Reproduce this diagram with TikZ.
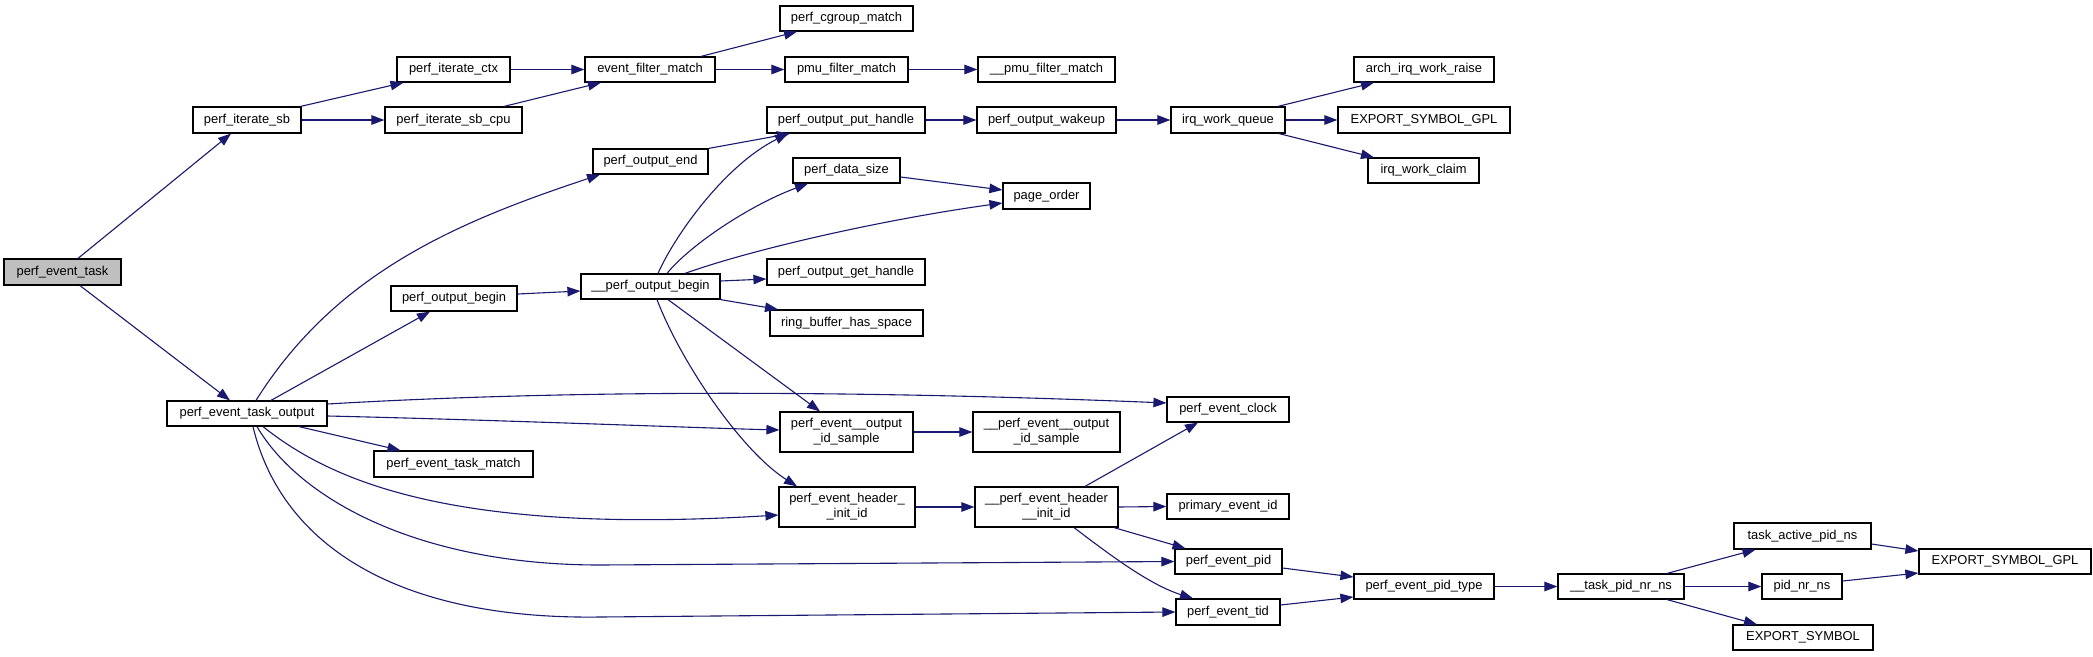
\documentclass[tikz,border=0pt]{standalone}
\usepackage{fontspec}
\setmainfont{Liberation Sans}
\usetikzlibrary{arrows.meta}
\definecolor{edgecol}{HTML}{191970}
\definecolor{boxgrey}{HTML}{BFBFBF}
\begin{document}
\begin{tikzpicture}[x=1pt,y=-1pt,
  box/.style={draw=black, line width=1.2pt, fill=white, inner sep=0pt, align=center,
    font=\fontsize{12.9}{15}\selectfont},
  edge/.style={draw=edgecol, line width=1.1pt, -{Triangle[length=13pt,width=9.5pt]}, fill=none}]
\fill[white] (0,0) rectangle (2093,656);
\useasboundingbox (0,0) rectangle (2093,656);
% nodes
\node[box, fill=boxgrey, minimum width=117pt, minimum height=26pt] (pet) at (62.5,272) {perf\_event\_task};
\node[box, minimum width=108pt, minimum height=26pt] (pis) at (247,120) {perf\_iterate\_sb};
\node[box, minimum width=113pt, minimum height=25pt] (pic) at (453.5,69.5) {perf\_iterate\_ctx};
\node[box, minimum width=137pt, minimum height=26pt] (pisc) at (453.5,120) {perf\_iterate\_sb\_cpu};
\node[box, minimum width=130pt, minimum height=25pt] (efm) at (650,69.5) {event\_filter\_match};
\node[box, minimum width=133pt, minimum height=25pt] (pcm) at (846.5,18.5) {perf\_cgroup\_match};
\node[box, minimum width=123pt, minimum height=25pt] (pfm) at (846.5,69.5) {pmu\_filter\_match};
\node[box, minimum width=137pt, minimum height=25pt] (upfm) at (1046.5,69.5) {\_\_pmu\_filter\_match};
\node[box, minimum width=160pt, minimum height=25pt] (pot) at (247,413.5) {perf\_event\_task\_output};
\node[box, minimum width=115pt, minimum height=25pt] (poe) at (650.5,161.5) {perf\_output\_end};
\node[box, minimum width=126pt, minimum height=25pt] (pob) at (454,298.5) {perf\_output\_begin};
\node[box, minimum width=139pt, minimum height=25pt] (upob) at (650.5,286.5) {\_\_perf\_output\_begin};
\node[box, minimum width=158pt, minimum height=26pt] (poph) at (846,120) {perf\_output\_put\_handle};
\node[box, minimum width=107pt, minimum height=25pt] (pds) at (846.5,170.5) {perf\_data\_size};
\node[box, minimum width=87pt, minimum height=26pt] (po) at (1046.5,196) {page\_order};
\node[box, minimum width=158pt, minimum height=26pt] (pogh) at (846,272) {perf\_output\_get\_handle};
\node[box, minimum width=153pt, minimum height=26pt] (rbhs) at (846.5,323) {ring\_buffer\_has\_space};
\node[box, minimum width=139pt, minimum height=26pt] (pow) at (1046.5,120) {perf\_output\_wakeup};
\node[box, minimum width=114pt, minimum height=26pt] (iwq) at (1228,120) {irq\_work\_queue};
\node[box, minimum width=140pt, minimum height=25pt] (aiwr) at (1424,69.5) {arch\_irq\_work\_raise};
\node[box, minimum width=172pt, minimum height=26pt] (esga) at (1424,120) {EXPORT\_SYMBOL\_GPL};
\node[box, minimum width=111pt, minimum height=25pt] (iwc) at (1423.5,170.5) {irq\_work\_claim};
\node[box, minimum width=159pt, minimum height=26pt] (petm) at (453.5,464) {perf\_event\_task\_match};
\node[box, minimum width=122pt, minimum height=25pt] (pec) at (1228,409.5) {perf\_event\_clock};
\node[box, minimum width=133pt, minimum height=40pt] (peois) at (846.5,432) {perf\_event\_\_output\\\_id\_sample};
\node[box, minimum width=147pt, minimum height=40pt] (upeois) at (1046.5,432) {\_\_perf\_event\_\_output\\\_id\_sample};
\node[box, minimum width=136pt, minimum height=40pt] (pehii) at (847,507) {perf\_event\_header\_\\\_init\_id};
\node[box, minimum width=143pt, minimum height=40pt] (upehii) at (1046.5,507) {\_\_perf\_event\_header\\\_\_init\_id};
\node[box, minimum width=122pt, minimum height=25pt] (pei) at (1228,506.5) {primary\_event\_id};
\node[box, minimum width=107pt, minimum height=25pt] (pep) at (1228.5,561.5) {perf\_event\_pid};
\node[box, minimum width=104pt, minimum height=26pt] (pett) at (1228,612) {perf\_event\_tid};
\node[box, minimum width=140pt, minimum height=25pt] (pept) at (1424,586.5) {perf\_event\_pid\_type};
\node[box, minimum width=126pt, minimum height=25pt] (tpnn) at (1621,586.5) {\_\_task\_pid\_nr\_ns};
\node[box, minimum width=137pt, minimum height=26pt] (tapn) at (1802.5,536) {task\_active\_pid\_ns};
\node[box, minimum width=80pt, minimum height=25pt] (pnn) at (1802,586.5) {pid\_nr\_ns};
\node[box, minimum width=140pt, minimum height=25pt] (es) at (1803,637.5) {EXPORT\_SYMBOL};
\node[box, minimum width=172pt, minimum height=25pt] (esgb) at (2005,561.5) {EXPORT\_SYMBOL\_GPL};
% edges
\draw[edge] ([xshift=15.5pt]pet.north) -- ([xshift=-16pt]pis.south);
\draw[edge] ([xshift=17.5pt]pet.south) -- ([xshift=-17pt]pot.north);
\draw[edge] ([xshift=-1pt]pis.north east) -- ([xshift=-50pt]pic.south);
\draw[edge] (pis.east) -- (pisc.west);
\draw[edge] (pic.east) -- (efm.west);
\draw[edge] ([xshift=50.5pt]pisc.north) -- ([xshift=-49pt]efm.south);
\draw[edge] ([xshift=51pt]efm.north) -- ([xshift=-49.5pt]pcm.south);
\draw[edge] (efm.east) -- (pfm.west);
\draw[edge] (pfm.east) -- (upfm.west);
\draw[edge] ([xshift=9pt]pot.north) .. controls (336,273) and (457,222) .. ([xshift=-50.5pt]poe.south);
\draw[edge] ([xshift=24pt]pot.north) -- ([xshift=-24pt]pob.south);
\draw[edge] ([yshift=9.5pt]pot.east) .. controls (600,388) and (900,392) .. ([yshift=6.5pt]pec.west);
\draw[edge] ([yshift=-2.5pt]pot.east) .. controls (500,420) and (700,428) .. ([yshift=2pt]peois.west);
\draw[edge] ([xshift=52pt]pot.south) -- ([xshift=-53pt]petm.north);
\draw[edge] ([xshift=16pt]pot.south) .. controls (330,480) and (450,535) .. ([yshift=-8pt]pehii.west);
\draw[edge] ([xshift=10pt]pot.south) .. controls (300,500) and (420,565) .. (600,565) -- (pep.west);
\draw[edge] ([xshift=6pt]pot.south) .. controls (280,540) and (390,620) .. (600,617) -- (pett.west);
\draw[edge] (poe.north east) -- ([xshift=-56pt]poph.south);
\draw[edge] ([yshift=4.5pt]pob.east) -- ([yshift=-4.5pt]upob.west);
\draw[edge] ([xshift=7.5pt]upob.north) .. controls (675,235) and (725,165) .. ([xshift=-58pt]poph.south);
\draw[edge] ([xshift=16.5pt]upob.north) .. controls (690,245) and (750,205) .. ([xshift=-38.5pt]pds.south);
\draw[edge] ([xshift=34.5pt]upob.north) .. controls (750,250) and (880,220) .. ([yshift=-7pt]po.west);
\draw[edge] ([yshift=5.5pt]upob.east) -- ([yshift=-7pt]pogh.west);
\draw[edge] (upob.south east) -- ([xshift=-68.5pt]rbhs.north);
\draw[edge] ([xshift=17.5pt]upob.south) -- ([xshift=-26.5pt]peois.north);
\draw[edge] ([xshift=6.5pt]upob.south) .. controls (680,360) and (740,450) .. ([xshift=-50pt]pehii.north);
\draw[edge] (poph.east) -- (pow.west);
\draw[edge] (pow.east) -- (iwq.west);
\draw[edge] ([xshift=50pt]iwq.north) -- ([xshift=-50pt]aiwr.south);
\draw[edge] (iwq.east) -- (esga.west);
\draw[edge] ([xshift=51pt]iwq.south) -- ([xshift=-49.5pt]iwc.north);
\draw[edge] ([yshift=-6.5pt]pds.east) -- ([yshift=6pt]po.west);
\draw[edge] (peois.east) -- (upeois.west);
\draw[edge] (pehii.east) -- (upehii.west);
\draw[edge] (upehii.east) -- (pei.west);
\draw[edge] ([xshift=38.5pt]upehii.north) -- ([xshift=-30pt]pec.south);
\draw[edge] ([xshift=67.5pt]upehii.south) -- ([xshift=-43pt]pep.north);
\draw[edge] ([xshift=27.5pt]upehii.south) .. controls (1110,555) and (1150,585) .. ([xshift=-35pt]pett.north);
\draw[edge] ([yshift=-6.5pt]pep.east) -- ([yshift=9.5pt]pept.west);
\draw[edge] ([yshift=7pt]pett.east) -- ([yshift=-10.5pt]pept.west);
\draw[edge] (pept.east) -- (tpnn.west);
\draw[edge] ([xshift=46pt]tpnn.north) -- ([xshift=-47pt]tapn.south);
\draw[edge] (tpnn.east) -- (pnn.west);
\draw[edge] ([xshift=46pt]tpnn.south) -- ([xshift=-46pt]es.north);
\draw[edge] ([yshift=-8pt]tapn.east) -- ([yshift=10.5pt]esgb.west);
\draw[edge] ([yshift=5.5pt]pnn.east) -- ([yshift=-11.5pt]esgb.west);
\end{tikzpicture}
\end{document}
